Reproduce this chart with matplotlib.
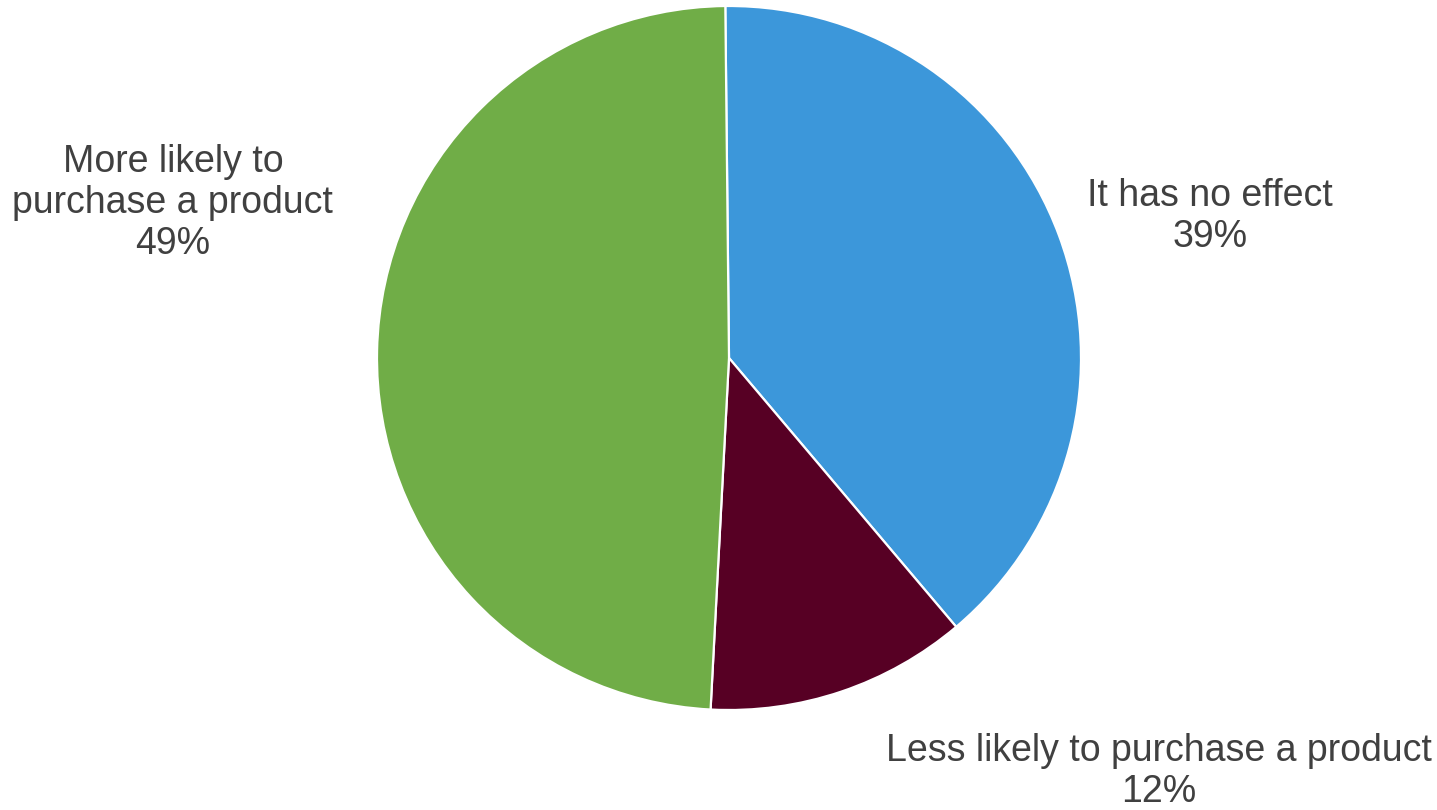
import matplotlib
matplotlib.use("Agg")
import matplotlib.pyplot as plt

# Survey responses (share of respondents, %)
categories = ["It has no effect", "Less likely to purchase a product", "More likely to\npurchase a product"]
values = [39, 12, 49]
colors = ["#3C97DA", "#570024", "#70AD47"]

# Label anchor positions in pie-radius units
label_pos = [(1.366, 0.402), (1.222, -1.175), (-1.580, 0.440)]

plt.rcParams["font.family"] = ["Liberation Sans", "DejaVu Sans"]

fig = plt.figure(figsize=(14.37, 8.10), dpi=100)
ax = fig.add_axes([0, 0, 1, 1])

ax.pie(values, colors=colors, startangle=90.6, counterclock=False,
       radius=1.0, center=(0, 0),
       wedgeprops=dict(edgecolor="white", linewidth=1.6))

for cat, val, (x, y) in zip(categories, values, label_pos):
    ax.text(x, y, f"{cat}\n{val}%", ha="center", va="center",
            fontsize=27, color="#404040", linespacing=1.17)

ax.set_xlim(-729 / 352, (1437 - 729) / 352)
ax.set_ylim(-452 / 352, 358 / 352)
ax.set_aspect("equal")
ax.axis("off")

fig.savefig("out.png", dpi=100, facecolor="white")
